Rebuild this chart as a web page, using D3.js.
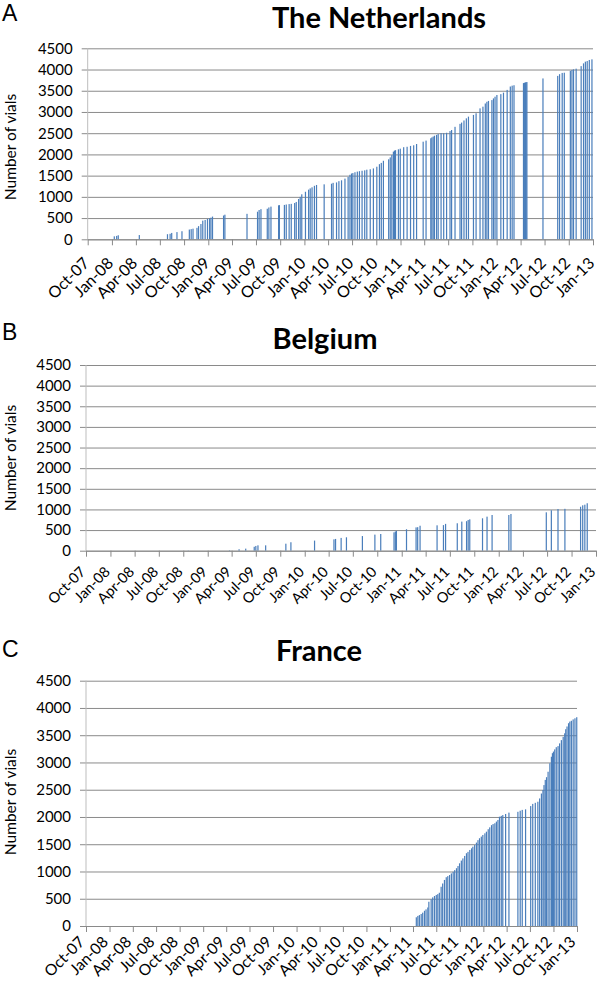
<!DOCTYPE html>
<html>
<head>
<meta charset="utf-8">
<script src="https://d3js.org/d3.v7.min.js"></script>
<style>
  body { margin: 0; background: #fff; }
  svg { display: block; }
  .tick text { font-family: Lato, "Open Sans", sans-serif; fill: #000; }
</style>
</head>
<body>
<script>

// cumulative vials per delivery date
var nlDates = ["2008-01-10","2008-01-19","2008-01-25","2008-04-14","2008-07-30","2008-08-09","2008-08-15","2008-09-04","2008-09-23","2008-10-21",
  "2008-10-28","2008-11-04","2008-11-19","2008-11-25","2008-12-04","2008-12-11","2008-12-20","2008-12-29","2009-01-06","2009-01-11",
  "2009-01-17","2009-02-28","2009-03-05","2009-05-28","2009-07-07","2009-07-13","2009-07-20","2009-08-13","2009-08-19","2009-08-27",
  "2009-09-25","2009-09-28","2009-10-17","2009-10-24","2009-11-04","2009-11-12","2009-11-25","2009-12-01","2009-12-10","2009-12-16",
  "2009-12-22","2010-01-05","2010-01-17","2010-01-23","2010-01-30","2010-02-08","2010-02-16","2010-03-17","2010-04-14","2010-04-20",
  "2010-05-03","2010-05-12","2010-05-22","2010-06-04","2010-06-16","2010-06-23","2010-06-29","2010-07-04","2010-07-12","2010-07-21",
  "2010-07-29","2010-08-08","2010-08-18","2010-08-26","2010-09-08","2010-09-20","2010-10-03","2010-10-13","2010-10-20","2010-10-28",
  "2010-11-17","2010-11-23","2010-11-29","2010-12-05","2010-12-09","2010-12-13","2010-12-24","2010-12-31","2011-01-13","2011-01-26",
  "2011-02-08","2011-02-20","2011-03-03","2011-03-28","2011-04-08","2011-04-26","2011-04-30","2011-05-05","2011-05-10","2011-05-18",
  "2011-05-24","2011-06-04","2011-06-14","2011-06-25","2011-07-08","2011-07-14","2011-07-27","2011-08-15","2011-08-21","2011-08-30",
  "2011-09-08","2011-09-16","2011-10-05","2011-10-15","2011-10-30","2011-11-10","2011-11-19","2011-11-25","2011-12-01","2011-12-14",
  "2011-12-20","2011-12-26","2012-01-02","2012-01-17","2012-01-27","2012-02-10","2012-02-22","2012-02-29","2012-03-07","2012-04-12",
  "2012-04-15","2012-04-17","2012-04-20","2012-04-22","2012-04-25","2012-06-25","2012-08-20","2012-08-27","2012-09-06","2012-09-14",
  "2012-10-07","2012-10-13","2012-10-19","2012-10-29","2012-11-17","2012-11-26","2012-12-03","2012-12-10","2012-12-18","2012-12-28"];
var nlVials = [70,80,95,100,120,130,150,170,190,230,
  240,250,270,310,360,440,455,480,495,510,
  535,560,580,600,650,690,710,720,750,770,
  800,805,810,820,830,835,855,880,950,1000,
  1060,1120,1170,1200,1225,1260,1280,1295,1310,1330,
  1340,1370,1390,1430,1470,1520,1550,1560,1580,1595,
  1605,1615,1625,1640,1650,1670,1710,1770,1800,1850,
  1885,1930,1985,2065,2090,2100,2120,2135,2170,2180,
  2200,2215,2245,2300,2325,2380,2400,2420,2440,2460,
  2480,2500,2500,2510,2550,2575,2650,2720,2750,2800,
  2850,2890,2930,2970,3085,3125,3200,3240,3260,3280,
  3320,3360,3400,3420,3455,3520,3600,3620,3630,3680,
  3685,3690,3695,3700,3705,3790,3850,3890,3920,3925,
  3970,3990,4005,4020,4080,4145,4185,4200,4225,4240];

var beDates = ["2008-10-20","2009-03-24","2009-04-29","2009-05-24","2009-06-25","2009-07-01","2009-07-09","2009-08-07","2009-10-22","2009-11-10",
  "2010-02-07","2010-04-21","2010-04-27","2010-05-18","2010-06-07","2010-08-06","2010-09-22","2010-10-14","2010-12-03","2010-12-08",
  "2010-12-12","2011-01-19","2011-02-24","2011-03-02","2011-03-11","2011-05-14","2011-06-07","2011-06-15","2011-07-29","2011-08-15",
  "2011-09-02","2011-09-08","2011-09-14","2011-11-01","2011-11-18","2011-12-07","2012-02-08","2012-02-16","2012-06-28","2012-07-17",
  "2012-08-11","2012-09-06","2012-11-04","2012-11-12","2012-11-20","2012-11-29"];
var beVials = [5,10,35,50,95,115,130,130,170,205,
  245,275,285,310,325,355,390,405,445,465,
  480,520,565,570,605,615,620,650,665,705,
  715,745,760,785,825,865,865,890,930,980,
  1010,1015,1065,1100,1115,1150];

var frDates = ["2011-04-14","2011-04-20","2011-04-26","2011-05-03","2011-05-09","2011-05-16","2011-05-22","2011-05-29","2011-06-02","2011-06-11",
  "2011-06-17","2011-06-24","2011-07-01","2011-07-07","2011-07-13","2011-07-20","2011-07-26","2011-08-02","2011-08-09","2011-08-15",
  "2011-08-22","2011-08-29","2011-09-05","2011-09-11","2011-09-18","2011-09-24","2011-09-30","2011-10-07","2011-10-13","2011-10-20",
  "2011-10-27","2011-11-02","2011-11-09","2011-11-16","2011-11-21","2011-11-28","2011-12-05","2011-12-11","2011-12-17","2011-12-24",
  "2011-12-30","2012-01-07","2012-01-13","2012-01-20","2012-01-26","2012-02-02","2012-02-08","2012-02-15","2012-02-21","2012-02-27",
  "2012-03-04","2012-03-11","2012-03-17","2012-03-28","2012-04-10","2012-05-15","2012-05-24","2012-06-01","2012-06-14","2012-07-04",
  "2012-07-12","2012-07-22","2012-08-01","2012-08-08","2012-08-15","2012-08-21","2012-08-25","2012-08-30","2012-09-04","2012-09-10",
  "2012-09-17","2012-09-23","2012-09-27","2012-10-01","2012-10-06","2012-10-12","2012-10-19","2012-10-25","2012-11-01","2012-11-08",
  "2012-11-14","2012-11-18","2012-11-23","2012-11-29","2012-12-04","2012-12-10","2012-12-17","2012-12-24","2012-12-31"];
var frVials = [160,185,200,220,245,280,305,340,445,490,
  525,550,570,585,610,720,780,845,895,915,
  935,965,995,1025,1060,1100,1150,1200,1240,1285,
  1335,1360,1395,1425,1455,1485,1530,1575,1610,1640,
  1670,1700,1730,1775,1810,1850,1870,1885,1915,1945,
  2005,2020,2035,2055,2080,2095,2115,2130,2140,2200,
  2240,2260,2280,2340,2430,2495,2585,2680,2730,2830,
  2985,3105,3170,3200,3240,3280,3300,3350,3410,3470,
  3535,3610,3660,3720,3750,3765,3790,3810,3830];

var yTicks = [0,500,1000,1500,2000,2500,3000,3500,4000,4500];
var xTickLabels = ["Oct-07","Jan-08","Apr-08","Jul-08","Oct-08","Jan-09","Apr-09","Jul-09","Oct-09","Jan-10","Apr-10",
  "Jul-10","Oct-10","Jan-11","Apr-11","Jul-11","Oct-11","Jan-12","Apr-12","Jul-12","Oct-12","Jan-13"];

var parseDay = d3.timeParse("%Y-%m-%d");
var parseTick = d3.timeParse("%b-%y");
var fmtTick = d3.timeFormat("%b-%y");
var tickDates = xTickLabels.map(parseTick);

var panels = [
  {letter:"A", title:"The Netherlands", dates:nlDates, vials:nlVials,
   left:87.7, right:593, top:48.3, bottom:239.3, letterY:21, titleX:379, titleY:28, labelY:147,
   tdx:2, tdy:25, tfs:16},
  {letter:"B", title:"Belgium", dates:beDates, vials:beVials,
   left:86, right:596, top:365, bottom:550.7, letterY:340, titleX:325, titleY:349, labelY:458,
   tdx:0, tdy:22, tfs:14.5},
  {letter:"C", title:"France", dates:frDates, vials:frVials,
   left:86, right:577, top:680.7, bottom:926, letterY:657, titleX:319, titleY:661, labelY:802,
   tdx:-1, tdy:17, tfs:15.5}
];

var svg = d3.select("body").append("svg")
  .attr("width", 600).attr("height", 985);

panels.forEach(function(p) {

  var data = p.dates.map(function(d, i) { return {date: parseDay(d), vials: p.vials[i]}; });

  var x = d3.scaleTime().domain([tickDates[0], tickDates[tickDates.length-1]]).range([p.left, p.right]);
  var y = d3.scaleLinear().domain([0, 4500]).range([p.bottom, p.top]);

  var g = svg.append("g");

  // panel letter + title
  g.append("text")
    .attr("x", 2).attr("y", p.letterY)
    .style("font-family", "'Liberation Sans', Arial, sans-serif")
    .style("font-size", "23px")
    .text(p.letter);

  g.append("text")
    .attr("x", p.titleX).attr("y", p.titleY)
    .attr("text-anchor", "middle")
    .style("font-family", "Lato, 'Open Sans', sans-serif")
    .style("font-weight", "bold")
    .style("font-size", "29px")
    .text(p.title);

  // gridlines + y labels
  var yAxis = g.append("g")
    .attr("transform", "translate(" + (p.left - 6) + ",0)")
    .call(d3.axisLeft(y).tickValues(yTicks).tickFormat(d3.format("d"))
      .tickSize(-(p.right - p.left + 6)).tickPadding(9).tickSizeOuter(0));
  yAxis.select(".domain").remove();
  yAxis.selectAll("line").attr("stroke", "#8a8a8a");
  yAxis.selectAll("text").style("font-size", "15px");

  // y axis line
  g.append("line")
    .attr("x1", p.left).attr("x2", p.left)
    .attr("y1", p.top).attr("y2", p.bottom)
    .attr("stroke", "#bdbdbd");

  // bars
  g.append("g").selectAll("rect").data(data).enter().append("rect")
    .attr("x", function(d) { return x(d.date) - 0.6; })
    .attr("y", function(d) { return y(d.vials); })
    .attr("width", 1.2)
    .attr("height", function(d) { return p.bottom - y(d.vials); })
    .attr("fill", "#4a7ebb");

  // x axis
  var xAxis = g.append("g")
    .attr("transform", "translate(0," + p.bottom + ")")
    .call(d3.axisBottom(x).tickValues(tickDates).tickFormat(fmtTick).tickSize(6).tickSizeOuter(0));
  xAxis.select(".domain").attr("stroke", "#8a8a8a");
  xAxis.selectAll("line").attr("stroke", "#8a8a8a");
  xAxis.selectAll("text")
    .attr("x", 0).attr("y", 0).attr("dy", null)
    .attr("text-anchor", "end")
    .attr("transform", "translate(" + p.tdx + "," + p.tdy + ") rotate(-45)")
    .style("font-size", p.tfs + "px");

  // y axis title
  g.append("text")
    .attr("transform", "translate(16," + p.labelY + ") rotate(-90)")
    .attr("text-anchor", "middle")
    .style("font-family", "Lato, 'Open Sans', sans-serif")
    .style("font-size", "15.5px")
    .text("Number of vials");
});

</script>
</body>
</html>
